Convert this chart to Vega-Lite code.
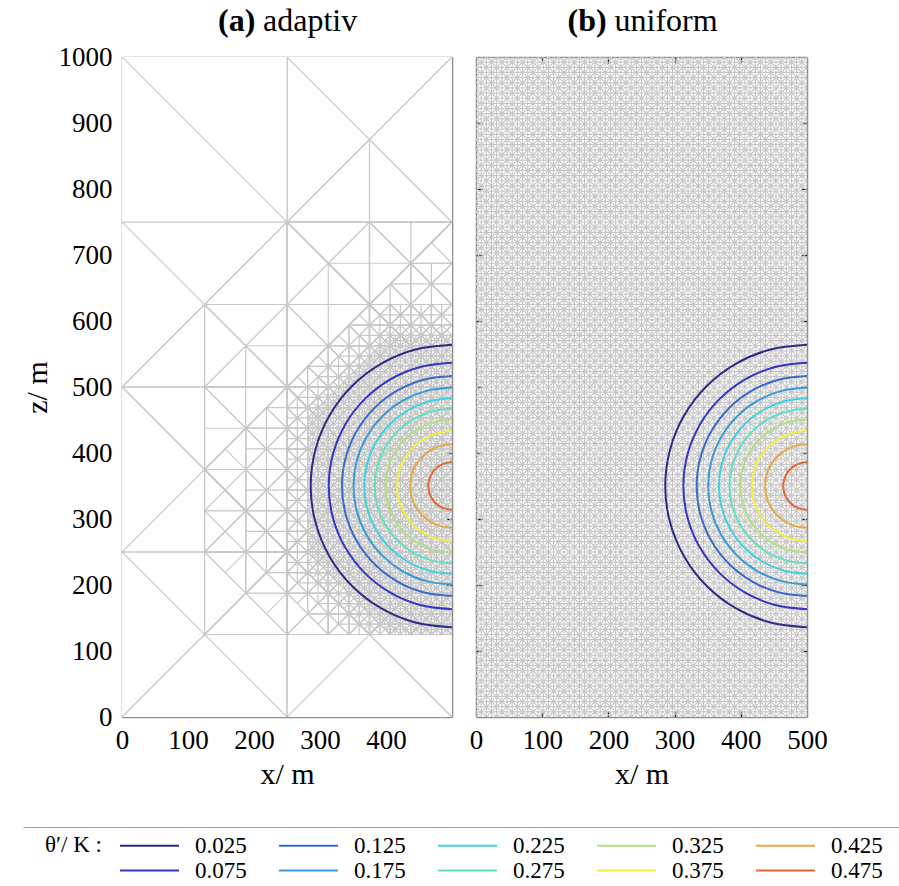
{
"$schema":"https://vega.github.io/schema/vega-lite/v6.json",
"background":"white",
"padding":{"left":22,"top":4,"right":0,"bottom":0},
"datasets":{
"g":[{"g":7.8125},{"g":15.625},{"g":23.4375},{"g":31.25},{"g":39.0625},{"g":46.875},{"g":54.6875},{"g":62.5},{"g":70.3125},{"g":78.125},{"g":85.9375},{"g":93.75},{"g":101.5625},{"g":109.375},{"g":117.1875},{"g":125},
{"g":132.8125},{"g":140.625},{"g":148.4375},{"g":156.25},{"g":164.0625},{"g":171.875},{"g":179.6875},{"g":187.5},{"g":195.3125},{"g":203.125},{"g":210.9375},{"g":218.75},{"g":226.5625},{"g":234.375},{"g":242.1875},{"g":250},
{"g":257.8125},{"g":265.625},{"g":273.4375},{"g":281.25},{"g":289.0625},{"g":296.875},{"g":304.6875},{"g":312.5},{"g":320.3125},{"g":328.125},{"g":335.9375},{"g":343.75},{"g":351.5625},{"g":359.375},{"g":367.1875},{"g":375},
{"g":382.8125},{"g":390.625},{"g":398.4375},{"g":406.25},{"g":414.0625},{"g":421.875},{"g":429.6875},{"g":437.5},{"g":445.3125},{"g":453.125},{"g":460.9375},{"g":468.75},{"g":476.5625},{"g":484.375},{"g":492.1875},{"g":500},
{"g":507.8125},{"g":515.625},{"g":523.4375},{"g":531.25},{"g":539.0625},{"g":546.875},{"g":554.6875},{"g":562.5},{"g":570.3125},{"g":578.125},{"g":585.9375},{"g":593.75},{"g":601.5625},{"g":609.375},{"g":617.1875},{"g":625},
{"g":632.8125},{"g":640.625},{"g":648.4375},{"g":656.25},{"g":664.0625},{"g":671.875},{"g":679.6875},{"g":687.5},{"g":695.3125},{"g":703.125},{"g":710.9375},{"g":718.75},{"g":726.5625},{"g":734.375},{"g":742.1875},{"g":750},
{"g":757.8125},{"g":765.625},{"g":773.4375},{"g":781.25},{"g":789.0625},{"g":796.875},{"g":804.6875},{"g":812.5},{"g":820.3125},{"g":828.125},{"g":835.9375},{"g":843.75},{"g":851.5625},{"g":859.375},{"g":867.1875},{"g":875},
{"g":882.8125},{"g":890.625},{"g":898.4375},{"g":906.25},{"g":914.0625},{"g":921.875},{"g":929.6875},{"g":937.5},{"g":945.3125},{"g":953.125},{"g":960.9375},{"g":968.75},{"g":976.5625},{"g":984.375},{"g":992.1875}],
"d":[{"a":-484.375,"b":15.625},{"a":-468.75,"b":31.25},{"a":-453.125,"b":46.875},{"a":-437.5,"b":62.5},{"a":-421.875,"b":78.125},{"a":-406.25,"b":93.75},{"a":-390.625,"b":109.375},{"a":-375,"b":125},{"a":-359.375,"b":140.625},{"a":-343.75,"b":156.25},{"a":-328.125,"b":171.875},{"a":-312.5,"b":187.5},{"a":-296.875,"b":203.125},{"a":-281.25,"b":218.75},{"a":-265.625,"b":234.375},{"a":-250,"b":250},{"a":-234.375,"b":265.625},{"a":-218.75,"b":281.25},{"a":-203.125,"b":296.875},{"a":-187.5,"b":312.5},{"a":-171.875,"b":328.125},{"a":-156.25,"b":343.75},{"a":-140.625,"b":359.375},{"a":-125,"b":375},{"a":-109.375,"b":390.625},{"a":-93.75,"b":406.25},{"a":-78.125,"b":421.875},{"a":-62.5,"b":437.5},{"a":-46.875,"b":453.125},{"a":-31.25,"b":468.75},{"a":-15.625,"b":484.375},{"a":0,"b":500},{"a":15.625,"b":515.625},{"a":31.25,"b":531.25},{"a":46.875,"b":546.875},{"a":62.5,"b":562.5},{"a":78.125,"b":578.125},{"a":93.75,"b":593.75},{"a":109.375,"b":609.375},{"a":125,"b":625},{"a":140.625,"b":640.625},{"a":156.25,"b":656.25},{"a":171.875,"b":671.875},{"a":187.5,"b":687.5},{"a":203.125,"b":703.125},{"a":218.75,"b":718.75},{"a":234.375,"b":734.375},{"a":250,"b":750},{"a":265.625,"b":765.625},{"a":281.25,"b":781.25},{"a":296.875,"b":796.875},{"a":312.5,"b":812.5},{"a":328.125,"b":828.125},{"a":343.75,"b":843.75},{"a":359.375,"b":859.375},{"a":375,"b":875},{"a":390.625,"b":890.625},{"a":406.25,"b":906.25},{"a":421.875,"b":921.875},{"a":437.5,"b":937.5},{"a":453.125,"b":953.125},{"a":468.75,"b":968.75},{"a":484.375,"b":984.375},{"a":500,"b":1000},{"a":515.625,"b":1015.625},{"a":531.25,"b":1031.25},{"a":546.875,"b":1046.875},{"a":562.5,"b":1062.5},{"a":578.125,"b":1078.125},{"a":593.75,"b":1093.75},{"a":609.375,"b":1109.375},{"a":625,"b":1125},{"a":640.625,"b":1140.625},{"a":656.25,"b":1156.25},{"a":671.875,"b":1171.875},{"a":687.5,"b":1187.5},{"a":703.125,"b":1203.125},{"a":718.75,"b":1218.75},{"a":734.375,"b":1234.375},{"a":750,"b":1250},{"a":765.625,"b":1265.625},{"a":781.25,"b":1281.25},{"a":796.875,"b":1296.875},{"a":812.5,"b":1312.5},{"a":828.125,"b":1328.125},{"a":843.75,"b":1343.75},{"a":859.375,"b":1359.375},{"a":875,"b":1375},{"a":890.625,"b":1390.625},{"a":906.25,"b":1406.25},{"a":921.875,"b":1421.875},{"a":937.5,"b":1437.5},{"a":953.125,"b":1453.125},{"a":968.75,"b":1468.75},{"a":984.375,"b":1484.375}],
"m":[
{"k":1,"s":"u","x":0,"v":350},{"k":1,"s":"u","x":281.24,"v":350},{"k":1,"s":"u","x":281.25,"v":453.125},{"k":1,"s":"u","x":406.25,"v":578.125},{"k":1,"s":"u","x":500,"v":578.125},
{"k":1,"s":"l","x":0,"v":350},{"k":1,"s":"l","x":281.24,"v":350},{"k":1,"s":"l","x":281.25,"v":250},{"k":1,"s":"l","x":406.25,"v":125},{"k":1,"s":"l","x":500,"v":125},
{"k":2,"s":"u","x":0,"v":350},{"k":2,"s":"u","x":281.24,"v":350},{"k":2,"s":"u","x":281.25,"v":468.75},{"k":2,"s":"u","x":406.25,"v":593.75},{"k":2,"s":"u","x":500,"v":593.75},
{"k":2,"s":"l","x":0,"v":350},{"k":2,"s":"l","x":281.24,"v":350},{"k":2,"s":"l","x":281.25,"v":218.75},{"k":2,"s":"l","x":406.25,"v":93.75},{"k":2,"s":"l","x":500,"v":93.75},
{"k":3,"s":"u","x":0,"v":350},{"k":3,"s":"u","x":249.99,"v":350},{"k":3,"s":"u","x":250,"v":468.75},{"k":3,"s":"u","x":406.25,"v":625},{"k":3,"s":"u","x":500,"v":625},
{"k":3,"s":"l","x":0,"v":350},{"k":3,"s":"l","x":249.99,"v":350},{"k":3,"s":"l","x":250,"v":218.75},{"k":3,"s":"l","x":406.25,"v":62.5},{"k":3,"s":"l","x":500,"v":62.5},
{"k":4,"s":"u","x":0,"v":350},{"k":4,"s":"u","x":249.99,"v":350},{"k":4,"s":"u","x":250,"v":500},{"k":4,"s":"u","x":375,"v":625},{"k":4,"s":"u","x":500,"v":625},
{"k":4,"s":"l","x":0,"v":350},{"k":4,"s":"l","x":249.99,"v":350},{"k":4,"s":"l","x":250,"v":187.5},{"k":4,"s":"l","x":375,"v":62.5},{"k":4,"s":"l","x":500,"v":62.5},
{"k":5,"s":"u","x":0,"v":350},{"k":5,"s":"u","x":187.49,"v":350},{"k":5,"s":"u","x":187.5,"v":437.5},{"k":5,"s":"u","x":437.5,"v":687.5},{"k":5,"s":"u","x":500,"v":687.5},
{"k":5,"s":"l","x":0,"v":350},{"k":5,"s":"l","x":187.49,"v":350},{"k":5,"s":"l","x":187.5,"v":250},{"k":5,"s":"l","x":375,"v":62.5},{"k":5,"s":"l","x":500,"v":62.5},
{"k":6,"s":"u","x":0,"v":350},{"k":6,"s":"u","x":124.99,"v":350},{"k":6,"s":"u","x":125,"v":375},{"k":6,"s":"u","x":500,"v":750},
{"k":6,"s":"l","x":0,"v":350},{"k":6,"s":"l","x":124.99,"v":350},{"k":6,"s":"l","x":125,"v":250},{"k":6,"s":"l","x":375,"v":0},{"k":6,"s":"l","x":500,"v":0},
{"k":7,"s":"u","x":0,"v":350},{"k":7,"s":"u","x":124.99,"v":350},{"k":7,"s":"u","x":125,"v":500},{"k":7,"s":"u","x":375,"v":750},{"k":7,"s":"u","x":500,"v":750},
{"k":7,"s":"l","x":0,"v":350},{"k":7,"s":"l","x":124.99,"v":350},{"k":7,"s":"l","x":125,"v":250},{"k":7,"s":"l","x":375,"v":0},{"k":7,"s":"l","x":500,"v":0},
{"k":8,"s":"u","x":0,"v":350},{"k":8,"s":"u","x":124.99,"v":350},{"k":8,"s":"u","x":125,"v":625},{"k":8,"s":"u","x":250,"v":750},{"k":8,"s":"u","x":500,"v":750},
{"k":8,"s":"l","x":0,"v":350},{"k":8,"s":"l","x":124.99,"v":350},{"k":8,"s":"l","x":125,"v":125},{"k":8,"s":"l","x":250,"v":0},{"k":8,"s":"l","x":500,"v":0},
{"k":9,"s":"u","x":0,"v":350},{"k":9,"s":"u","x":123.99,"v":350},{"k":9,"s":"u","x":124,"v":626},{"k":9,"s":"u","x":249.99,"v":626},{"k":9,"s":"u","x":250,"v":750},{"k":9,"s":"u","x":375,"v":875},{"k":9,"s":"u","x":500,"v":750},
{"k":9,"s":"l","x":0,"v":350},{"k":9,"s":"l","x":123.99,"v":350},{"k":9,"s":"l","x":124,"v":124},{"k":9,"s":"l","x":500,"v":124},
{"k":10,"s":"u","x":0,"v":750},{"k":10,"s":"u","x":249.99,"v":750},{"k":10,"s":"u","x":250,"v":1000},{"k":10,"s":"u","x":500,"v":1000}],
"c":[
{"t":"0.025","i":0,"x":500,"z":135.89},{"t":"0.025","i":1,"x":444.58,"z":143.19},{"t":"0.025","i":2,"x":392.94,"z":164.57},{"t":"0.025","i":3,"x":348.6,"z":198.6},{"t":"0.025","i":4,"x":314.57,"z":242.94},{"t":"0.025","i":5,"x":293.19,"z":294.58},{"t":"0.025","i":6,"x":285.89,"z":350},{"t":"0.025","i":7,"x":293.19,"z":405.42},{"t":"0.025","i":8,"x":314.57,"z":457.06},{"t":"0.025","i":9,"x":348.6,"z":501.4},{"t":"0.025","i":10,"x":392.94,"z":535.43},{"t":"0.025","i":11,"x":444.58,"z":556.81},{"t":"0.025","i":12,"x":500,"z":564.11},
{"t":"0.075","i":0,"x":500,"z":163.3},{"t":"0.075","i":1,"x":451.68,"z":169.66},{"t":"0.075","i":2,"x":406.65,"z":188.31},{"t":"0.075","i":3,"x":367.98,"z":217.98},{"t":"0.075","i":4,"x":338.31,"z":256.65},{"t":"0.075","i":5,"x":319.66,"z":301.68},{"t":"0.075","i":6,"x":313.3,"z":350},{"t":"0.075","i":7,"x":319.66,"z":398.32},{"t":"0.075","i":8,"x":338.31,"z":443.35},{"t":"0.075","i":9,"x":367.98,"z":482.02},{"t":"0.075","i":10,"x":406.65,"z":511.69},{"t":"0.075","i":11,"x":451.68,"z":530.34},{"t":"0.075","i":12,"x":500,"z":536.7},
{"t":"0.125","i":0,"x":500,"z":183.33},{"t":"0.125","i":1,"x":456.86,"z":189.01},{"t":"0.125","i":2,"x":416.67,"z":205.66},{"t":"0.125","i":3,"x":382.15,"z":232.15},{"t":"0.125","i":4,"x":355.66,"z":266.67},{"t":"0.125","i":5,"x":339.01,"z":306.86},{"t":"0.125","i":6,"x":333.33,"z":350},{"t":"0.125","i":7,"x":339.01,"z":393.14},{"t":"0.125","i":8,"x":355.66,"z":433.33},{"t":"0.125","i":9,"x":382.15,"z":467.85},{"t":"0.125","i":10,"x":416.67,"z":494.34},{"t":"0.125","i":11,"x":456.86,"z":510.99},{"t":"0.125","i":12,"x":500,"z":516.67},
{"t":"0.175","i":0,"x":500,"z":200.75},{"t":"0.175","i":1,"x":461.37,"z":205.84},{"t":"0.175","i":2,"x":425.37,"z":220.75},{"t":"0.175","i":3,"x":394.46,"z":244.46},{"t":"0.175","i":4,"x":370.75,"z":275.37},{"t":"0.175","i":5,"x":355.84,"z":311.37},{"t":"0.175","i":6,"x":350.75,"z":350},{"t":"0.175","i":7,"x":355.84,"z":388.63},{"t":"0.175","i":8,"x":370.75,"z":424.63},{"t":"0.175","i":9,"x":394.46,"z":455.54},{"t":"0.175","i":10,"x":425.37,"z":479.25},{"t":"0.175","i":11,"x":461.37,"z":494.16},{"t":"0.175","i":12,"x":500,"z":499.25},
{"t":"0.225","i":0,"x":500,"z":217.03},{"t":"0.225","i":1,"x":465.58,"z":221.56},{"t":"0.225","i":2,"x":433.51,"z":234.84},{"t":"0.225","i":3,"x":405.98,"z":255.98},{"t":"0.225","i":4,"x":384.84,"z":283.51},{"t":"0.225","i":5,"x":371.56,"z":315.58},{"t":"0.225","i":6,"x":367.03,"z":350},{"t":"0.225","i":7,"x":371.56,"z":384.42},{"t":"0.225","i":8,"x":384.84,"z":416.49},{"t":"0.225","i":9,"x":405.98,"z":444.02},{"t":"0.225","i":10,"x":433.51,"z":465.16},{"t":"0.225","i":11,"x":465.58,"z":478.44},{"t":"0.225","i":12,"x":500,"z":482.97},
{"t":"0.275","i":0,"x":500,"z":232.97},{"t":"0.275","i":1,"x":469.71,"z":236.96},{"t":"0.275","i":2,"x":441.48,"z":248.65},{"t":"0.275","i":3,"x":417.25,"z":267.25},{"t":"0.275","i":4,"x":398.65,"z":291.48},{"t":"0.275","i":5,"x":386.96,"z":319.71},{"t":"0.275","i":6,"x":382.97,"z":350},{"t":"0.275","i":7,"x":386.96,"z":380.29},{"t":"0.275","i":8,"x":398.65,"z":408.52},{"t":"0.275","i":9,"x":417.25,"z":432.75},{"t":"0.275","i":10,"x":441.48,"z":451.35},{"t":"0.275","i":11,"x":469.71,"z":463.04},{"t":"0.275","i":12,"x":500,"z":467.03},
{"t":"0.325","i":0,"x":500,"z":249.25},{"t":"0.325","i":1,"x":473.92,"z":252.68},{"t":"0.325","i":2,"x":449.62,"z":262.75},{"t":"0.325","i":3,"x":428.76,"z":278.76},{"t":"0.325","i":4,"x":412.75,"z":299.62},{"t":"0.325","i":5,"x":402.68,"z":323.92},{"t":"0.325","i":6,"x":399.25,"z":350},{"t":"0.325","i":7,"x":402.68,"z":376.08},{"t":"0.325","i":8,"x":412.75,"z":400.38},{"t":"0.325","i":9,"x":428.76,"z":421.24},{"t":"0.325","i":10,"x":449.62,"z":437.25},{"t":"0.325","i":11,"x":473.92,"z":447.32},{"t":"0.325","i":12,"x":500,"z":450.75},
{"t":"0.375","i":0,"x":500,"z":266.67},{"t":"0.375","i":1,"x":478.43,"z":269.51},{"t":"0.375","i":2,"x":458.33,"z":277.83},{"t":"0.375","i":3,"x":441.08,"z":291.08},{"t":"0.375","i":4,"x":427.83,"z":308.33},{"t":"0.375","i":5,"x":419.51,"z":328.43},{"t":"0.375","i":6,"x":416.67,"z":350},{"t":"0.375","i":7,"x":419.51,"z":371.57},{"t":"0.375","i":8,"x":427.83,"z":391.67},{"t":"0.375","i":9,"x":441.08,"z":408.92},{"t":"0.375","i":10,"x":458.33,"z":422.17},{"t":"0.375","i":11,"x":478.43,"z":430.49},{"t":"0.375","i":12,"x":500,"z":433.33},
{"t":"0.425","i":0,"x":500,"z":286.7},{"t":"0.425","i":1,"x":483.62,"z":288.86},{"t":"0.425","i":2,"x":468.35,"z":295.18},{"t":"0.425","i":3,"x":455.24,"z":305.24},{"t":"0.425","i":4,"x":445.18,"z":318.35},{"t":"0.425","i":5,"x":438.86,"z":333.62},{"t":"0.425","i":6,"x":436.7,"z":350},{"t":"0.425","i":7,"x":438.86,"z":366.38},{"t":"0.425","i":8,"x":445.18,"z":381.65},{"t":"0.425","i":9,"x":455.24,"z":394.76},{"t":"0.425","i":10,"x":468.35,"z":404.82},{"t":"0.425","i":11,"x":483.62,"z":411.14},{"t":"0.425","i":12,"x":500,"z":413.3},
{"t":"0.475","i":0,"x":500,"z":314.11},{"t":"0.475","i":1,"x":490.71,"z":315.33},{"t":"0.475","i":2,"x":482.05,"z":318.92},{"t":"0.475","i":3,"x":474.62,"z":324.62},{"t":"0.475","i":4,"x":468.92,"z":332.05},{"t":"0.475","i":5,"x":465.33,"z":340.71},{"t":"0.475","i":6,"x":464.11,"z":350},{"t":"0.475","i":7,"x":465.33,"z":359.29},{"t":"0.475","i":8,"x":468.92,"z":367.95},{"t":"0.475","i":9,"x":474.62,"z":375.38},{"t":"0.475","i":10,"x":482.05,"z":381.08},{"t":"0.475","i":11,"x":490.71,"z":384.67},{"t":"0.475","i":12,"x":500,"z":385.89}]
},
"resolve":{"scale":{"color":"shared"},"legend":{"color":"shared"}},
"vconcat":[
{"hconcat":[
{"width":330,"height":660,
"layer":[
{"data":{"name":"g"},"transform":[{"filter":"datum.g<500&&datum.g%7.8125==0"}],"mark":{"type":"rule","clip":true},"encoding":{"x":{"field":"g","type":"quantitative","scale":{"domain":[0,500]},"axis":{"orient":"top","labels":false,"values":[100,200,300,400],"title":"adaptiv","titleX":140.5,"titleY":-27,"titleAlign":"left","titleBaseline":"alphabetic","titleAngle":0,"titleFontSize":32}}}},
{"data":{"name":"g"},"transform":[{"filter":"datum.g%7.8125==0"}],"mark":{"type":"rule","clip":true},"encoding":{"y":{"field":"g","type":"quantitative","scale":{"domain":[0,1000]},"axis":{"orient":"right","labels":false,"values":[100,200,300,400,500,600,700,800,900],"title":"(a)","titleFontWeight":"bold","titleFontSize":32,"titleAngle":0,"titleX":-234.5,"titleY":-27,"titleAlign":"left","titleBaseline":"alphabetic"}}}},
{"data":{"name":"d"},"transform":[{"filter":"datum.a%15.625==0"}],"mark":{"type":"rule","clip":true},"encoding":{"x":{"datum":0,"type":"quantitative","scale":{"domain":[0,500]},"axis":null},"x2":{"datum":500},"y":{"field":"a","type":"quantitative","scale":{"domain":[0,1000]},"axis":null},"y2":{"field":"b"}}},
{"data":{"name":"d"},"transform":[{"filter":"datum.a%15.625==0"}],"mark":{"type":"rule","clip":true},"encoding":{"x":{"datum":500,"type":"quantitative","scale":{"domain":[0,500]},"axis":null},"x2":{"datum":0},"y":{"field":"a","type":"quantitative","scale":{"domain":[0,1000]},"axis":null},"y2":{"field":"b"}}},
{"data":{"name":"m"},"transform":[{"filter":"datum.k==1&&datum.s=='u'"}],"mark":{"type":"area","clip":true,"color":"white"},"encoding":{"x":{"field":"x","type":"quantitative","scale":{"domain":[0,500]},"axis":null},"y":{"field":"v","type":"quantitative","scale":{"domain":[0,1000]},"axis":null},"y2":{"datum":1000}}},
{"data":{"name":"m"},"transform":[{"filter":"datum.k==1&&datum.s=='l'"}],"mark":{"type":"area","clip":true,"color":"white"},"encoding":{"x":{"field":"x","type":"quantitative","scale":{"domain":[0,500]},"axis":null},"y":{"field":"v","type":"quantitative","scale":{"domain":[0,1000]},"axis":null},"y2":{"datum":0}}},

{"data":{"name":"g"},"transform":[{"filter":"datum.g<500&&datum.g%15.625==0"}],"mark":{"type":"rule","clip":true},"encoding":{"x":{"field":"g","type":"quantitative","scale":{"domain":[0,500]},"axis":null}}},
{"data":{"name":"g"},"transform":[{"filter":"datum.g%15.625==0"}],"mark":{"type":"rule","clip":true},"encoding":{"y":{"field":"g","type":"quantitative","scale":{"domain":[0,1000]},"axis":null}}},
{"data":{"name":"d"},"transform":[{"filter":"datum.a%15.625==0"}],"mark":{"type":"rule","clip":true},"encoding":{"x":{"datum":0,"type":"quantitative","scale":{"domain":[0,500]},"axis":null},"x2":{"datum":500},"y":{"field":"a","type":"quantitative","scale":{"domain":[0,1000]},"axis":null},"y2":{"field":"b"}}},
{"data":{"name":"d"},"transform":[{"filter":"datum.a%15.625==0"}],"mark":{"type":"rule","clip":true},"encoding":{"x":{"datum":500,"type":"quantitative","scale":{"domain":[0,500]},"axis":null},"x2":{"datum":0},"y":{"field":"a","type":"quantitative","scale":{"domain":[0,1000]},"axis":null},"y2":{"field":"b"}}},
{"data":{"name":"m"},"transform":[{"filter":"datum.k==2&&datum.s=='u'"}],"mark":{"type":"area","clip":true,"color":"white"},"encoding":{"x":{"field":"x","type":"quantitative","scale":{"domain":[0,500]},"axis":null},"y":{"field":"v","type":"quantitative","scale":{"domain":[0,1000]},"axis":null},"y2":{"datum":1000}}},
{"data":{"name":"m"},"transform":[{"filter":"datum.k==2&&datum.s=='l'"}],"mark":{"type":"area","clip":true,"color":"white"},"encoding":{"x":{"field":"x","type":"quantitative","scale":{"domain":[0,500]},"axis":null},"y":{"field":"v","type":"quantitative","scale":{"domain":[0,1000]},"axis":null},"y2":{"datum":0}}},

{"data":{"name":"g"},"transform":[{"filter":"datum.g<500&&datum.g%15.625==0"}],"mark":{"type":"rule","clip":true},"encoding":{"x":{"field":"g","type":"quantitative","scale":{"domain":[0,500]},"axis":null}}},
{"data":{"name":"g"},"transform":[{"filter":"datum.g%15.625==0"}],"mark":{"type":"rule","clip":true},"encoding":{"y":{"field":"g","type":"quantitative","scale":{"domain":[0,1000]},"axis":null}}},
{"data":{"name":"d"},"transform":[{"filter":"datum.a%31.25==0"}],"mark":{"type":"rule","clip":true},"encoding":{"x":{"datum":0,"type":"quantitative","scale":{"domain":[0,500]},"axis":null},"x2":{"datum":500},"y":{"field":"a","type":"quantitative","scale":{"domain":[0,1000]},"axis":null},"y2":{"field":"b"}}},
{"data":{"name":"d"},"transform":[{"filter":"datum.a%31.25==0"}],"mark":{"type":"rule","clip":true},"encoding":{"x":{"datum":500,"type":"quantitative","scale":{"domain":[0,500]},"axis":null},"x2":{"datum":0},"y":{"field":"a","type":"quantitative","scale":{"domain":[0,1000]},"axis":null},"y2":{"field":"b"}}},
{"data":{"name":"m"},"transform":[{"filter":"datum.k==3&&datum.s=='u'"}],"mark":{"type":"area","clip":true,"color":"white"},"encoding":{"x":{"field":"x","type":"quantitative","scale":{"domain":[0,500]},"axis":null},"y":{"field":"v","type":"quantitative","scale":{"domain":[0,1000]},"axis":null},"y2":{"datum":1000}}},
{"data":{"name":"m"},"transform":[{"filter":"datum.k==3&&datum.s=='l'"}],"mark":{"type":"area","clip":true,"color":"white"},"encoding":{"x":{"field":"x","type":"quantitative","scale":{"domain":[0,500]},"axis":null},"y":{"field":"v","type":"quantitative","scale":{"domain":[0,1000]},"axis":null},"y2":{"datum":0}}},

{"data":{"name":"g"},"transform":[{"filter":"datum.g<500&&datum.g%31.25==0"}],"mark":{"type":"rule","clip":true},"encoding":{"x":{"field":"g","type":"quantitative","scale":{"domain":[0,500]},"axis":null}}},
{"data":{"name":"g"},"transform":[{"filter":"datum.g%31.25==0"}],"mark":{"type":"rule","clip":true},"encoding":{"y":{"field":"g","type":"quantitative","scale":{"domain":[0,1000]},"axis":null}}},
{"data":{"name":"d"},"transform":[{"filter":"datum.a%31.25==0"}],"mark":{"type":"rule","clip":true},"encoding":{"x":{"datum":0,"type":"quantitative","scale":{"domain":[0,500]},"axis":null},"x2":{"datum":500},"y":{"field":"a","type":"quantitative","scale":{"domain":[0,1000]},"axis":null},"y2":{"field":"b"}}},
{"data":{"name":"d"},"transform":[{"filter":"datum.a%31.25==0"}],"mark":{"type":"rule","clip":true},"encoding":{"x":{"datum":500,"type":"quantitative","scale":{"domain":[0,500]},"axis":null},"x2":{"datum":0},"y":{"field":"a","type":"quantitative","scale":{"domain":[0,1000]},"axis":null},"y2":{"field":"b"}}},
{"data":{"name":"m"},"transform":[{"filter":"datum.k==4&&datum.s=='u'"}],"mark":{"type":"area","clip":true,"color":"white"},"encoding":{"x":{"field":"x","type":"quantitative","scale":{"domain":[0,500]},"axis":null},"y":{"field":"v","type":"quantitative","scale":{"domain":[0,1000]},"axis":null},"y2":{"datum":1000}}},
{"data":{"name":"m"},"transform":[{"filter":"datum.k==4&&datum.s=='l'"}],"mark":{"type":"area","clip":true,"color":"white"},"encoding":{"x":{"field":"x","type":"quantitative","scale":{"domain":[0,500]},"axis":null},"y":{"field":"v","type":"quantitative","scale":{"domain":[0,1000]},"axis":null},"y2":{"datum":0}}},

{"data":{"name":"g"},"transform":[{"filter":"datum.g<500&&datum.g%31.25==0"}],"mark":{"type":"rule","clip":true},"encoding":{"x":{"field":"g","type":"quantitative","scale":{"domain":[0,500]},"axis":null}}},
{"data":{"name":"g"},"transform":[{"filter":"datum.g%31.25==0"}],"mark":{"type":"rule","clip":true},"encoding":{"y":{"field":"g","type":"quantitative","scale":{"domain":[0,1000]},"axis":null}}},
{"data":{"name":"d"},"transform":[{"filter":"datum.a%62.5==0"}],"mark":{"type":"rule","clip":true},"encoding":{"x":{"datum":0,"type":"quantitative","scale":{"domain":[0,500]},"axis":null},"x2":{"datum":500},"y":{"field":"a","type":"quantitative","scale":{"domain":[0,1000]},"axis":null},"y2":{"field":"b"}}},
{"data":{"name":"d"},"transform":[{"filter":"datum.a%62.5==0"}],"mark":{"type":"rule","clip":true},"encoding":{"x":{"datum":500,"type":"quantitative","scale":{"domain":[0,500]},"axis":null},"x2":{"datum":0},"y":{"field":"a","type":"quantitative","scale":{"domain":[0,1000]},"axis":null},"y2":{"field":"b"}}},
{"data":{"name":"m"},"transform":[{"filter":"datum.k==5&&datum.s=='u'"}],"mark":{"type":"area","clip":true,"color":"white"},"encoding":{"x":{"field":"x","type":"quantitative","scale":{"domain":[0,500]},"axis":null},"y":{"field":"v","type":"quantitative","scale":{"domain":[0,1000]},"axis":null},"y2":{"datum":1000}}},
{"data":{"name":"m"},"transform":[{"filter":"datum.k==5&&datum.s=='l'"}],"mark":{"type":"area","clip":true,"color":"white"},"encoding":{"x":{"field":"x","type":"quantitative","scale":{"domain":[0,500]},"axis":null},"y":{"field":"v","type":"quantitative","scale":{"domain":[0,1000]},"axis":null},"y2":{"datum":0}}},

{"data":{"name":"g"},"transform":[{"filter":"datum.g<500&&datum.g%62.5==0"}],"mark":{"type":"rule","clip":true},"encoding":{"x":{"field":"g","type":"quantitative","scale":{"domain":[0,500]},"axis":null}}},
{"data":{"name":"g"},"transform":[{"filter":"datum.g%62.5==0"}],"mark":{"type":"rule","clip":true},"encoding":{"y":{"field":"g","type":"quantitative","scale":{"domain":[0,1000]},"axis":null}}},
{"data":{"name":"d"},"transform":[{"filter":"datum.a%62.5==0"}],"mark":{"type":"rule","clip":true},"encoding":{"x":{"datum":0,"type":"quantitative","scale":{"domain":[0,500]},"axis":null},"x2":{"datum":500},"y":{"field":"a","type":"quantitative","scale":{"domain":[0,1000]},"axis":null},"y2":{"field":"b"}}},
{"data":{"name":"d"},"transform":[{"filter":"datum.a%62.5==0"}],"mark":{"type":"rule","clip":true},"encoding":{"x":{"datum":500,"type":"quantitative","scale":{"domain":[0,500]},"axis":null},"x2":{"datum":0},"y":{"field":"a","type":"quantitative","scale":{"domain":[0,1000]},"axis":null},"y2":{"field":"b"}}},
{"data":{"name":"m"},"transform":[{"filter":"datum.k==6&&datum.s=='u'"}],"mark":{"type":"area","clip":true,"color":"white"},"encoding":{"x":{"field":"x","type":"quantitative","scale":{"domain":[0,500]},"axis":null},"y":{"field":"v","type":"quantitative","scale":{"domain":[0,1000]},"axis":null},"y2":{"datum":1000}}},
{"data":{"name":"m"},"transform":[{"filter":"datum.k==6&&datum.s=='l'"}],"mark":{"type":"area","clip":true,"color":"white"},"encoding":{"x":{"field":"x","type":"quantitative","scale":{"domain":[0,500]},"axis":null},"y":{"field":"v","type":"quantitative","scale":{"domain":[0,1000]},"axis":null},"y2":{"datum":0}}},

{"data":{"name":"g"},"transform":[{"filter":"datum.g<500&&datum.g%62.5==0"}],"mark":{"type":"rule","clip":true},"encoding":{"x":{"field":"g","type":"quantitative","scale":{"domain":[0,500]},"axis":null}}},
{"data":{"name":"g"},"transform":[{"filter":"datum.g%62.5==0"}],"mark":{"type":"rule","clip":true},"encoding":{"y":{"field":"g","type":"quantitative","scale":{"domain":[0,1000]},"axis":null}}},
{"data":{"name":"d"},"transform":[{"filter":"datum.a%125==0"}],"mark":{"type":"rule","clip":true},"encoding":{"x":{"datum":0,"type":"quantitative","scale":{"domain":[0,500]},"axis":null},"x2":{"datum":500},"y":{"field":"a","type":"quantitative","scale":{"domain":[0,1000]},"axis":null},"y2":{"field":"b"}}},
{"data":{"name":"d"},"transform":[{"filter":"datum.a%125==0"}],"mark":{"type":"rule","clip":true},"encoding":{"x":{"datum":500,"type":"quantitative","scale":{"domain":[0,500]},"axis":null},"x2":{"datum":0},"y":{"field":"a","type":"quantitative","scale":{"domain":[0,1000]},"axis":null},"y2":{"field":"b"}}},
{"data":{"name":"m"},"transform":[{"filter":"datum.k==7&&datum.s=='u'"}],"mark":{"type":"area","clip":true,"color":"white"},"encoding":{"x":{"field":"x","type":"quantitative","scale":{"domain":[0,500]},"axis":null},"y":{"field":"v","type":"quantitative","scale":{"domain":[0,1000]},"axis":null},"y2":{"datum":1000}}},
{"data":{"name":"m"},"transform":[{"filter":"datum.k==7&&datum.s=='l'"}],"mark":{"type":"area","clip":true,"color":"white"},"encoding":{"x":{"field":"x","type":"quantitative","scale":{"domain":[0,500]},"axis":null},"y":{"field":"v","type":"quantitative","scale":{"domain":[0,1000]},"axis":null},"y2":{"datum":0}}},

{"data":{"name":"g"},"transform":[{"filter":"datum.g<500&&datum.g%125==0"}],"mark":{"type":"rule","clip":true},"encoding":{"x":{"field":"g","type":"quantitative","scale":{"domain":[0,500]},"axis":null}}},
{"data":{"name":"g"},"transform":[{"filter":"datum.g%125==0"}],"mark":{"type":"rule","clip":true},"encoding":{"y":{"field":"g","type":"quantitative","scale":{"domain":[0,1000]},"axis":null}}},
{"data":{"name":"d"},"transform":[{"filter":"datum.a%125==0"}],"mark":{"type":"rule","clip":true},"encoding":{"x":{"datum":0,"type":"quantitative","scale":{"domain":[0,500]},"axis":null},"x2":{"datum":500},"y":{"field":"a","type":"quantitative","scale":{"domain":[0,1000]},"axis":null},"y2":{"field":"b"}}},
{"data":{"name":"d"},"transform":[{"filter":"datum.a%125==0"}],"mark":{"type":"rule","clip":true},"encoding":{"x":{"datum":500,"type":"quantitative","scale":{"domain":[0,500]},"axis":null},"x2":{"datum":0},"y":{"field":"a","type":"quantitative","scale":{"domain":[0,1000]},"axis":null},"y2":{"field":"b"}}},
{"data":{"name":"m"},"transform":[{"filter":"datum.k==8&&datum.s=='u'"}],"mark":{"type":"area","clip":true,"color":"white"},"encoding":{"x":{"field":"x","type":"quantitative","scale":{"domain":[0,500]},"axis":null},"y":{"field":"v","type":"quantitative","scale":{"domain":[0,1000]},"axis":null},"y2":{"datum":1000}}},
{"data":{"name":"m"},"transform":[{"filter":"datum.k==8&&datum.s=='l'"}],"mark":{"type":"area","clip":true,"color":"white"},"encoding":{"x":{"field":"x","type":"quantitative","scale":{"domain":[0,500]},"axis":null},"y":{"field":"v","type":"quantitative","scale":{"domain":[0,1000]},"axis":null},"y2":{"datum":0}}},

{"data":{"name":"g"},"transform":[{"filter":"datum.g<500&&datum.g%125==0"}],"mark":{"type":"rule","clip":true},"encoding":{"x":{"field":"g","type":"quantitative","scale":{"domain":[0,500]},"axis":null}}},
{"data":{"name":"g"},"transform":[{"filter":"datum.g%125==0"}],"mark":{"type":"rule","clip":true},"encoding":{"y":{"field":"g","type":"quantitative","scale":{"domain":[0,1000]},"axis":null}}},
{"data":{"name":"d"},"transform":[{"filter":"datum.a%250==0"}],"mark":{"type":"rule","clip":true},"encoding":{"x":{"datum":0,"type":"quantitative","scale":{"domain":[0,500]},"axis":null},"x2":{"datum":500},"y":{"field":"a","type":"quantitative","scale":{"domain":[0,1000]},"axis":null},"y2":{"field":"b"}}},
{"data":{"name":"d"},"transform":[{"filter":"datum.a%250==0"}],"mark":{"type":"rule","clip":true},"encoding":{"x":{"datum":500,"type":"quantitative","scale":{"domain":[0,500]},"axis":null},"x2":{"datum":0},"y":{"field":"a","type":"quantitative","scale":{"domain":[0,1000]},"axis":null},"y2":{"field":"b"}}},
{"data":{"name":"m"},"transform":[{"filter":"datum.k==9&&datum.s=='u'"}],"mark":{"type":"area","clip":true,"color":"white"},"encoding":{"x":{"field":"x","type":"quantitative","scale":{"domain":[0,500]},"axis":null},"y":{"field":"v","type":"quantitative","scale":{"domain":[0,1000]},"axis":null},"y2":{"datum":1000}}},
{"data":{"name":"m"},"transform":[{"filter":"datum.k==9&&datum.s=='l'"}],"mark":{"type":"area","clip":true,"color":"white"},"encoding":{"x":{"field":"x","type":"quantitative","scale":{"domain":[0,500]},"axis":null},"y":{"field":"v","type":"quantitative","scale":{"domain":[0,1000]},"axis":null},"y2":{"datum":0}}},

{"data":{"name":"g"},"transform":[{"filter":"datum.g<500&&datum.g%250==0"}],"mark":{"type":"rule","clip":true},"encoding":{"x":{"field":"g","type":"quantitative","scale":{"domain":[0,500]},"axis":null}}},
{"data":{"name":"g"},"transform":[{"filter":"datum.g%250==0"}],"mark":{"type":"rule","clip":true},"encoding":{"y":{"field":"g","type":"quantitative","scale":{"domain":[0,1000]},"axis":null}}},
{"data":{"name":"d"},"transform":[{"filter":"datum.a%250==0"}],"mark":{"type":"rule","clip":true},"encoding":{"x":{"datum":0,"type":"quantitative","scale":{"domain":[0,500]},"axis":null},"x2":{"datum":500},"y":{"field":"a","type":"quantitative","scale":{"domain":[0,1000]},"axis":null},"y2":{"field":"b"}}},
{"data":{"name":"d"},"transform":[{"filter":"datum.a%250==0"}],"mark":{"type":"rule","clip":true},"encoding":{"x":{"datum":500,"type":"quantitative","scale":{"domain":[0,500]},"axis":null},"x2":{"datum":0},"y":{"field":"a","type":"quantitative","scale":{"domain":[0,1000]},"axis":null},"y2":{"field":"b"}}},
{"data":{"name":"m"},"transform":[{"filter":"datum.k==10&&datum.s=='u'"}],"mark":{"type":"area","clip":true,"color":"white"},"encoding":{"x":{"field":"x","type":"quantitative","scale":{"domain":[0,500]},"axis":null},"y":{"field":"v","type":"quantitative","scale":{"domain":[0,1000]},"axis":null},"y2":{"datum":1000}}},

{"data":{"name":"g"},"transform":[{"filter":"datum.g<500&&datum.g%250==0"}],"mark":{"type":"rule","clip":true},"encoding":{"x":{"field":"g","type":"quantitative","scale":{"domain":[0,500]},"axis":null}}},
{"data":{"name":"g"},"transform":[{"filter":"datum.g%250==0"}],"mark":{"type":"rule","clip":true},"encoding":{"y":{"field":"g","type":"quantitative","scale":{"domain":[0,1000]},"axis":null}}},
{"data":{"name":"d"},"transform":[{"filter":"datum.a%500==0"}],"mark":{"type":"rule","clip":true},"encoding":{"x":{"datum":0,"type":"quantitative","scale":{"domain":[0,500]},"axis":null},"x2":{"datum":500},"y":{"field":"a","type":"quantitative","scale":{"domain":[0,1000]},"axis":null},"y2":{"field":"b"}}},
{"data":{"name":"d"},"transform":[{"filter":"datum.a%500==0"}],"mark":{"type":"rule","clip":true},"encoding":{"x":{"datum":500,"type":"quantitative","scale":{"domain":[0,500]},"axis":null},"x2":{"datum":0},"y":{"field":"a","type":"quantitative","scale":{"domain":[0,1000]},"axis":null},"y2":{"field":"b"}}},

{"data":{"name":"c"},"mark":{"type":"line","clip":true,"strokeWidth":2,"interpolate":"catmull-rom"},"encoding":{"x":{"field":"x","type":"quantitative","scale":{"domain":[0,500]},"axis":{"orient":"bottom","values":[0,100,200,300,400],"title":"x/ m","tickOpacity":{"condition":{"test":"datum.value==0","value":0},"value":1}}},"y":{"field":"z","type":"quantitative","scale":{"domain":[0,1000]},"axis":{"orient":"left","format":"d","values":[0,100,200,300,400,500,600,700,800,900,1000],"title":"z/ m","tickOpacity":{"condition":{"test":"datum.value==0||datum.value==1000","value":0},"value":1}}},"color":{"field":"t","type":"nominal","scale":{"domain":["0.025","0.125","0.225","0.325","0.425","0.075","0.175","0.275","0.375","0.475"],"range":["#2b2b8a","#3a6ac8","#40d0e0","#b0e080","#e8a848","#3535c0","#3a9ad8","#60e0c0","#f0f040","#e06838"]},"legend":{"title":"θ′/ K :","orient":"none","legendX":-77,"legendY":777}},"order":{"field":"i","type":"quantitative"}}}
]},
{"width":331,"height":660,
"layer":[
{"data":{"name":"g"},"transform":[{"filter":"datum.g<500"}],"mark":{"type":"rule","clip":true},"encoding":{"x":{"field":"g","type":"quantitative","scale":{"domain":[0,500]},"axis":{"orient":"top","labels":false,"values":[100,200,300,400],"title":"uniform","titleX":138,"titleY":-27,"titleAlign":"left","titleBaseline":"alphabetic","titleAngle":0,"titleFontSize":32}}}},
{"data":{"name":"g"},"mark":{"type":"rule","clip":true},"encoding":{"y":{"field":"g","type":"quantitative","scale":{"domain":[0,1000]},"axis":{"orient":"right","labels":false,"values":[100,200,300,400,500,600,700,800,900],"title":"(b)","titleFontWeight":"bold","titleFontSize":32,"titleAngle":0,"titleX":-240,"titleY":-27,"titleAlign":"left","titleBaseline":"alphabetic"}}}},
{"data":{"name":"d"},"mark":{"type":"rule","clip":true},"encoding":{"x":{"datum":0,"type":"quantitative","scale":{"domain":[0,500]},"axis":null},"x2":{"datum":500},"y":{"field":"a","type":"quantitative","scale":{"domain":[0,1000]},"axis":null},"y2":{"field":"b"}}},
{"data":{"name":"d"},"mark":{"type":"rule","clip":true},"encoding":{"x":{"datum":500,"type":"quantitative","scale":{"domain":[0,500]},"axis":null},"x2":{"datum":0},"y":{"field":"a","type":"quantitative","scale":{"domain":[0,1000]},"axis":null},"y2":{"field":"b"}}},
{"data":{"name":"c"},"mark":{"type":"line","clip":true,"strokeWidth":2,"interpolate":"catmull-rom"},"encoding":{"x":{"field":"x","type":"quantitative","scale":{"domain":[0,500]},"axis":{"orient":"bottom","values":[0,100,200,300,400,500],"title":"x/ m","tickOpacity":{"condition":{"test":"datum.value==0||datum.value==500","value":0},"value":1}}},"y":{"field":"z","type":"quantitative","scale":{"domain":[0,1000]},"axis":{"orient":"left","labels":false,"title":null,"values":[100,200,300,400,500,600,700,800,900]}},"color":{"field":"t","type":"nominal","scale":{"domain":["0.025","0.125","0.225","0.325","0.425","0.075","0.175","0.275","0.375","0.475"],"range":["#2b2b8a","#3a6ac8","#40d0e0","#b0e080","#e8a848","#3535c0","#3a9ad8","#60e0c0","#f0f040","#e06838"]},"legend":{"title":"θ′/ K :","orient":"none","legendX":-77,"legendY":777}},"order":{"field":"i","type":"quantitative"}}}
]}
],"spacing":16,"resolve":{"scale":{"color":"shared"},"legend":{"color":"shared"}}},
{"data":{"values":[]},"mark":{"type":"point"},"encoding":{"x":{"field":"u","type":"quantitative","scale":{"domain":[0,1],"range":[-99,778]},"axis":{"orient":"top","labels":false,"ticks":false,"title":null,"domainColor":"#a0a0a0","domainWidth":1.2}}},"width":778,"height":1}
],
"spacing":38,
"config":{
"view":{"stroke":null},
"font":"Liberation Serif",
"rule":{"color":"#c8c8c8","strokeWidth":1.2},
"axis":{"labelFont":"Liberation Serif","labelFontSize":27,"labelColor":"#000","titleFont":"Liberation Serif","titleFontSize":30,"titleFontWeight":"normal","titleColor":"#000","tickColor":"#000","tickSize":-6,"tickWidth":1.5,"domainColor":"#909090","domainWidth":1.6,"grid":false,"labelPadding":16,"titlePadding":6,"zindex":1,"labelFlush":false,"labelOverlap":false},
"legend":{"columns":5,"direction":"horizontal","titleOrient":"left","titleAnchor":"start","titleBaseline":"top","symbolType":"M-3,0H3","symbolSize":387,"symbolStrokeWidth":2,"labelFont":"Liberation Serif","labelFontSize":23,"labelColor":"#000","titleFont":"Liberation Serif","titleFontSize":23,"titleFontWeight":"normal","titleColor":"#000","labelOffset":34,"columnPadding":27,"rowPadding":1,"titlePadding":36}
}
}
